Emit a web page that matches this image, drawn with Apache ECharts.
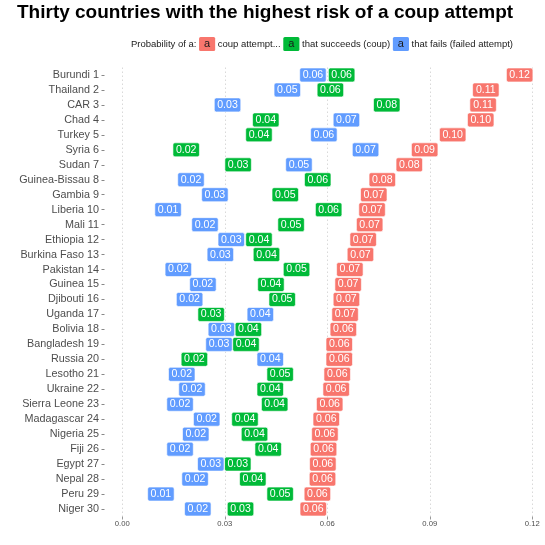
<html lang="en">
<head>
    <meta charset="UTF-8">
    <title>Coup risk</title>
    <script src="https://cdn.jsdelivr.net/npm/echarts@6.0.0/dist/echarts.min.js"></script>
    <style>
        html, body { margin: 0; padding: 0; background: #fff; }
        #my-chart { width: 545px; height: 545px; }
    </style>
</head>
<body>
    <div id="my-chart"></div>
    <script>
        const countries = ['Burundi 1', 'Thailand 2', 'CAR 3', 'Chad 4', 'Turkey 5', 'Syria 6', 'Sudan 7',
            'Guinea-Bissau 8', 'Gambia 9', 'Liberia 10', 'Mali 11', 'Ethiopia 12', 'Burkina Faso 13',
            'Pakistan 14', 'Guinea 15', 'Djibouti 16', 'Uganda 17', 'Bolivia 18', 'Bangladesh 19',
            'Russia 20', 'Lesotho 21', 'Ukraine 22', 'Sierra Leone 23', 'Madagascar 24', 'Nigeria 25',
            'Fiji 26', 'Egypt 27', 'Nepal 28', 'Peru 29', 'Niger 30'];

        // probability of a coup attempt (red)
        const attempt = [0.1163, 0.1064, 0.1056, 0.1049, 0.0967, 0.0885, 0.0840, 0.0761, 0.0736, 0.0731,
            0.0724, 0.0705, 0.0697, 0.0666, 0.0661, 0.0656, 0.0652, 0.0647, 0.0635, 0.0635,
            0.0629, 0.0626, 0.0607, 0.0597, 0.0593, 0.0589, 0.0587, 0.0586, 0.0571, 0.0559];
        // ...that succeeds (green)
        const succeeds = [0.0642, 0.0609, 0.0774, 0.0420, 0.0400, 0.0187, 0.0339, 0.0572, 0.0477, 0.0604,
            0.0494, 0.0400, 0.0422, 0.0510, 0.0435, 0.0468, 0.0260, 0.0369, 0.0362, 0.0211,
            0.0462, 0.0433, 0.0446, 0.0359, 0.0387, 0.0427, 0.0338, 0.0382, 0.0462, 0.0346];
        // ...that fails (blue)
        const fails = [0.0558, 0.0483, 0.0308, 0.0656, 0.0590, 0.0712, 0.0517, 0.0201, 0.0271, 0.0134,
            0.0242, 0.0319, 0.0287, 0.0164, 0.0236, 0.0197, 0.0404, 0.0290, 0.0283, 0.0433,
            0.0174, 0.0204, 0.0169, 0.0247, 0.0215, 0.0169, 0.0259, 0.0213, 0.0113, 0.0221];

        const xTicks = [0, 0.03, 0.06, 0.09, 0.12];

        const font = 'Liberation Sans';
        // small rounded box like geom_label
        const boxPath = 'path://M2,0H24.5Q26.5,0 26.5,2V12Q26.5,14 24.5,14H2Q0,14 0,12V2Q0,0 2,0Z';

        function labelSeries(name, values, color) {
            return {
                name: name,
                type: 'scatter',
                xAxisIndex: 1,
                yAxisIndex: 1,
                clip: false,
                symbol: boxPath,
                symbolSize: [26.5, 14],
                itemStyle: { color: color, borderColor: '#fff', borderWidth: 0.6, opacity: 1 },
                label: {
                    show: true,
                    position: 'inside',
                    color: '#fff',
                    fontFamily: font,
                    fontSize: 10.6,
                    formatter: p => p.value[0].toFixed(2)
                },
                emphasis: { disabled: true },
                data: values.map((v, i) => [v, countries[i]])
            };
        }

        var myChart = echarts.init(document.getElementById('my-chart'));

        let option = {
            animation: false,
            textStyle: { fontFamily: font },
            grid: [
                // grid 0 only carries the country axis (labels + ticks)
                { left: 104.5, right: 12.7, top: 67.5, bottom: 28.5 },
                // grid 1 carries the data
                { left: 122.3, right: 12.7, top: 67.5, bottom: 28.5 }
            ],
            xAxis: [
                { gridIndex: 0, type: 'value', show: false, min: 0, max: 1 },
                {
                    gridIndex: 1,
                    type: 'value',
                    min: xTicks[0],
                    max: xTicks[xTicks.length - 1],
                    interval: 0.03,
                    axisLine: { show: false },
                    axisTick: { show: true, length: 3, lineStyle: { color: '#999' } },
                    axisLabel: {
                        margin: 3,
                        fontSize: 7.7,
                        color: '#4d4d4d',
                        fontFamily: font,
                        formatter: v => v.toFixed(2)
                    },
                    splitLine: { show: true, lineStyle: { color: '#cfcfcf', type: [1.5, 2.5], width: 0.8 } }
                }
            ],
            yAxis: [
                {
                    gridIndex: 0,
                    type: 'category',
                    data: countries,
                    inverse: true,
                    axisLine: { show: false },
                    axisTick: { show: true, length: 3, alignWithLabel: true, lineStyle: { color: '#888' } },
                    axisLabel: { margin: 5.5, fontSize: 10.8, color: '#4d4d4d', fontFamily: font },
                    splitLine: { show: false }
                },
                {
                    gridIndex: 1,
                    type: 'category',
                    data: countries,
                    inverse: true,
                    show: false
                }
            ],
            graphic: [
                {
                    type: 'text',
                    left: 17,
                    top: 3.5,
                    style: {
                        text: 'Thirty countries with the highest risk of a coup attempt',
                        font: 'bold 19px "Liberation Sans"',
                        fill: '#000'
                    }
                },
                {
                    type: 'text',
                    right: 32,
                    top: 37,
                    style: {
                        text: 'Probability of a: {r|a} coup attempt... {g|a} that succeeds (coup) {b|a} that fails (failed attempt)',
                        fontFamily: font,
                        fontSize: 9.5,
                        fill: '#1a1a1a',
                        rich: {
                            r: { backgroundColor: '#F8766D', color: '#fff', fontSize: 11, lineHeight: 11, padding: [1.5, 5], borderRadius: 1.5, fontFamily: font },
                            g: { backgroundColor: '#00BA38', color: '#fff', fontSize: 11, lineHeight: 11, padding: [1.5, 5], borderRadius: 1.5, fontFamily: font },
                            b: { backgroundColor: '#619CFF', color: '#fff', fontSize: 11, lineHeight: 11, padding: [1.5, 5], borderRadius: 1.5, fontFamily: font }
                        }
                    }
                }
            ],
            series: [
                labelSeries('coup attempt...', attempt, '#F8766D'),
                labelSeries('that succeeds (coup)', succeeds, '#00BA38'),
                labelSeries('that fails (failed attempt)', fails, '#619CFF')
            ]
        };

        myChart.setOption(option);
    </script>
</body>
</html>
